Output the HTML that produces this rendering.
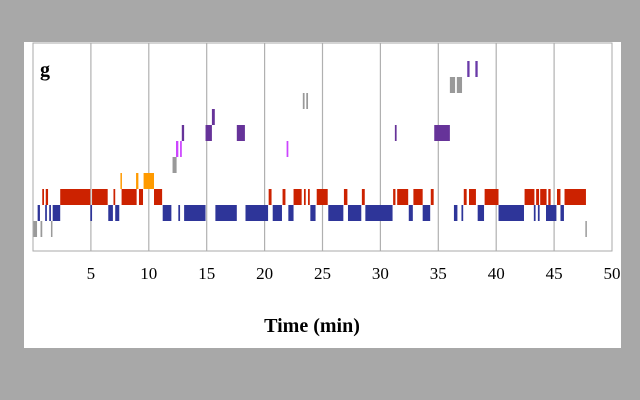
<!DOCTYPE html>
<html><head><meta charset="utf-8"><style>
body{margin:0;background:#a8a8a8;width:640px;height:400px;overflow:hidden}
svg{display:block}
text{font-family:"Liberation Serif",serif}
</style></head><body>
<svg width="640" height="400" id="c">
<rect x="0" y="0" width="640" height="400" fill="#a8a8a8"/>
<rect x="24" y="42" width="597" height="306" fill="#fff"/>
<g id="grid"></g>
<g id="marks"></g>
<rect x="33" y="43" width="579" height="208" fill="none" stroke="#aaa" stroke-width="1"/>
<text x="40" y="76" font-size="20" font-weight="bold">g</text>
<g id="ticks"></g>
<text x="312" y="332" font-size="20" font-weight="bold" text-anchor="middle">Time (min)</text>
</svg>
<script>
const ticks=[5,10,15,20,25,30,35,40,45,50];
const tickLabels=["5","10","15","20","25","30","35","40","45","50"];
const grayLow=[[0,0.35],[0.65,0.8],[1.55,1.65],[47.7,47.8]];
const blue=[[0.4,0.6],[1.05,1.2],[1.4,1.55],[1.7,2.35],[4.95,5.1],[6.5,6.9],[7.1,7.45],[11.2,11.95],[12.55,12.7],[13.05,14.9],[15.75,17.6],[18.35,20.3],[20.7,21.5],[22.05,22.5],[23.95,24.4],[25.5,26.8],[27.2,28.35],[28.7,31.05],[32.45,32.8],[33.65,34.3],[36.35,36.65],[37.0,37.15],[38.4,38.95],[40.2,42.4],[43.25,43.4],[43.6,43.75],[44.3,45.2],[45.55,45.85]];
const red=[[0.8,0.95],[1.1,1.3],[2.35,4.95],[5.1,6.45],[6.95,7.1],[7.65,8.95],[9.15,9.5],[10.45,11.15],[20.35,20.6],[21.55,21.8],[22.5,23.2],[23.4,23.55],[23.75,23.9],[24.5,25.45],[26.85,27.15],[28.4,28.65],[31.1,31.3],[31.45,32.4],[32.85,33.65],[34.35,34.6],[37.2,37.45],[37.65,38.25],[39.0,40.2],[42.45,43.3],[43.45,43.7],[43.8,44.35],[44.5,44.7],[45.25,45.55],[45.9,47.75]];
const orange=[[7.55,7.65],[8.9,9.1],[9.55,10.45]];
const gray4=[[12.05,12.4]];
const magenta=[[12.35,12.55],[12.7,12.85],[21.9,22.05]];
const purple6=[[12.85,13.05],[14.9,15.45],[17.6,18.3],[31.25,31.4],[34.65,36.0]];
const purple7=[[15.45,15.7]];
const gray8=[[23.3,23.45],[23.6,23.75]];
const gray9=[[36.0,36.45],[36.6,37.05]];
const purple10=[[37.5,37.7],[38.2,38.4]];
const rows=[[grayLow,0,"#9a9a9a","gray-low"],[blue,1,"#2e3599","blue"],[red,2,"#cc2200","red"],[orange,3,"#ff9a00","orange"],[gray4,4,"#999","gray"],[magenta,5,"#cc44ff","magenta"],[purple6,6,"#663399","purple"],[purple7,7,"#663399","purple-upper"],[gray8,8,"#999","gray-upper"],[gray9,9,"#999","gray-top"],[purple10,10,"#6a3aa8","purple-top"]];
const NS="http://www.w3.org/2000/svg";
function xs(t){return 33+t*11.58;}
function yRow(k){return 221-k*16;}
const grid=document.getElementById('grid'),marks=document.getElementById('marks'),tk=document.getElementById('ticks');
ticks.forEach((t,i)=>{
 if(t<50){const l=document.createElementNS(NS,'line');
 l.setAttribute('x1',xs(t));l.setAttribute('x2',xs(t));l.setAttribute('y1',43);l.setAttribute('y2',251);
 l.setAttribute('stroke','#b0b0b0');l.setAttribute('stroke-width','1.2');
 
 
 grid.appendChild(l);}
 const tx=document.createElementNS(NS,'text');
 tx.setAttribute('x',xs(t));tx.setAttribute('y',279);tx.setAttribute('font-size','17');tx.setAttribute('text-anchor','middle');
 tx.textContent=tickLabels[i];
 
 
 tk.appendChild(tx);
});
rows.forEach(r=>{
 const [arr,k,col,nm]=r;
 arr.forEach(s=>{
  const rc=document.createElementNS(NS,'rect');
  const x0=xs(s[0]),x1=xs(s[1]);
  rc.setAttribute('x',x0);rc.setAttribute('width',Math.max(1.5,x1-x0));
  rc.setAttribute('y',yRow(k));rc.setAttribute('height',16);
  rc.setAttribute('fill',col);
  
  
  marks.appendChild(rc);
 });
});
</script>
</body></html>
